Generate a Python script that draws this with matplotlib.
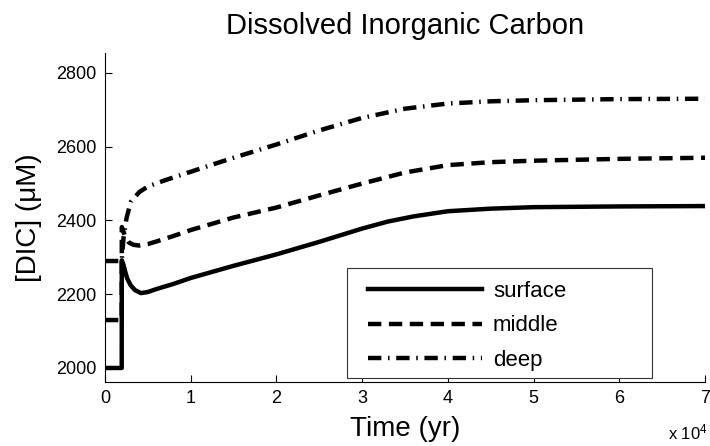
import matplotlib
matplotlib.use("Agg")
import matplotlib.pyplot as plt
from matplotlib.ticker import FuncFormatter
from matplotlib.patches import Rectangle

plt.rcParams['font.family'] = ['Liberation Sans', 'DejaVu Sans']
plt.rcParams['mathtext.default'] = 'regular'

# ---- data (time in years, DIC in uM) ----
surface_t = [0, 1950, 1960, 2150, 2350, 2600, 3000, 3500, 4200, 5000, 6000, 8000, 10000,
             15000, 20000, 25000, 30000, 33000, 36000, 40000, 45000, 50000, 60000, 70000]
surface_v = [2000, 2000, 2292, 2280, 2262, 2242, 2224, 2211, 2203, 2206, 2214, 2228, 2244,
             2277, 2308, 2342, 2378, 2397, 2411, 2425, 2432, 2436, 2438, 2439]

middle_t = [0, 1950, 1960, 2150, 2400, 2800, 3300, 4000, 5000, 6000, 8000, 10000, 15000,
            20000, 25000, 30000, 35000, 40000, 45000, 50000, 60000, 70000]
middle_v = [2130, 2130, 2382, 2370, 2355, 2340, 2334, 2332, 2336, 2343, 2358, 2374, 2408,
            2435, 2468, 2500, 2530, 2550, 2558, 2562, 2567, 2570]

deep_t = [0, 1950, 2150, 2500, 3000, 4000, 5000, 7000, 10000, 13000, 15000, 20000, 25000,
          30000, 35000, 40000, 45000, 50000, 60000, 70000]
deep_v = [2290, 2290, 2350, 2405, 2450, 2477, 2492, 2509, 2532, 2555, 2570, 2606, 2644,
          2678, 2703, 2717, 2723, 2726, 2729, 2730]

series_labels = ['surface', 'middle', 'deep']

x_ticks = [0, 10000, 20000, 30000, 40000, 50000, 60000, 70000]
y_ticks = [2000, 2200, 2400, 2600, 2800]

# ---- figure ----
fig = plt.figure(figsize=(7.10, 4.46), dpi=100)
ax = fig.add_axes([105/710, (446-382)/446, 600/710, 329/446])

lw = 3.2
ax.plot(surface_t, surface_v, color='black', lw=lw, ls='-', label=series_labels[0])
ax.plot(middle_t, middle_v, color='black', lw=lw, ls=(0, (3.0, 1.7)), label=series_labels[1])
ax.plot(deep_t, deep_v, color='black', lw=lw, ls=(0, (3.0, 1.5, 0.35, 1.5)), label=series_labels[2])

ax.set_xlim(0, 70000)
ax.set_ylim(1962, 2854)
ax.set_xticks(x_ticks)
ax.set_yticks(y_ticks)
ax.xaxis.set_major_formatter(FuncFormatter(lambda v, p: f"{v/1e4:g}"))

for s in ['top', 'right']:
    ax.spines[s].set_visible(False)
for s in ['left', 'bottom']:
    ax.spines[s].set_linewidth(0.8)

ax.tick_params(direction='in', length=5, width=0.8, labelsize=13, pad=6)

ax.set_title('Dissolved Inorganic Carbon', fontsize=21, pad=14)
ax.set_xlabel('Time (yr)', fontsize=20, labelpad=6)
ax.set_ylabel('[DIC] (\u03bcM)', fontsize=20, labelpad=10)

fig.text(0.997, 0.008, r'x 10$^4$', ha='right', va='bottom', fontsize=12)

# legend frame (drawn separately) and legend content
frame = Rectangle((0.403, 0.012), 0.508, 0.335, transform=ax.transAxes,
                  facecolor='white', edgecolor='#333333', lw=0.8, zorder=5)
ax.add_patch(frame)
leg = ax.legend(loc='upper left', bbox_to_anchor=(0.438, 0.307), frameon=False,
                fontsize=16, handlelength=5.13, handletextpad=0.5,
                borderpad=0.0, labelspacing=0.6, borderaxespad=0.0)
leg.set_zorder(6)

fig.savefig('out.png', dpi=100)
